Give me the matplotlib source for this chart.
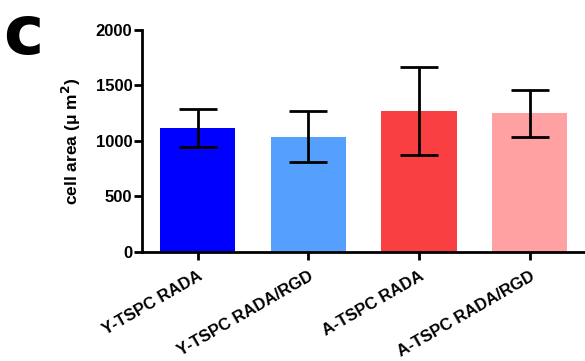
import matplotlib
matplotlib.use("Agg")
import matplotlib.pyplot as plt

plt.rcParams['font.family'] = ['Liberation Sans', 'DejaVu Sans']
plt.rcParams['font.weight'] = 'bold'

groups = ['Y-TSPC RADA', 'Y-TSPC RADA/RGD', 'A-TSPC RADA', 'A-TSPC RADA/RGD']
means = [1118, 1040, 1272, 1248]
errs = [173, 232, 396, 213]
colors = ['#0000FF', '#55A0FF', '#F93F42', '#FFA0A2']

fig = plt.figure(figsize=(5.85, 3.61), dpi=100)
ax = fig.add_axes([0.243, 0.302, 0.757, 0.615])

x = range(len(groups))
ax.bar(x, means, width=0.68, color=colors, zorder=2)
ax.errorbar(x, means, yerr=errs, fmt='none', ecolor='black', elinewidth=2,
            capsize=13.5, capthick=2, zorder=3)

ax.set_xlim(-0.5, 3.5)
ax.set_ylim(0, 2000)
ax.set_yticks([0, 500, 1000, 1500, 2000])
ax.set_xticks(list(x))
ax.set_xticklabels(groups, rotation=30, ha='right', rotation_mode='anchor',
                   fontsize=12, fontweight='bold')
ax.tick_params(axis='y', labelsize=12, width=2, length=6, pad=1)
ax.tick_params(axis='x', width=2, length=6, pad=6)
for lab in ax.get_yticklabels():
    lab.set_fontweight('bold')

for s in ['top', 'right']:
    ax.spines[s].set_visible(False)
for s in ['left', 'bottom']:
    ax.spines[s].set_linewidth(2)

ax.set_ylabel('cell area (μ m$^\\mathbf{2}$)', fontsize=12.5, fontweight='bold', labelpad=9)

# panel letter
fig.text(0.006, 0.85, 'c', fontsize=49, fontweight='bold', va='baseline', ha='left',
         family='DejaVu Sans')

fig.savefig('out.png', dpi=100)
